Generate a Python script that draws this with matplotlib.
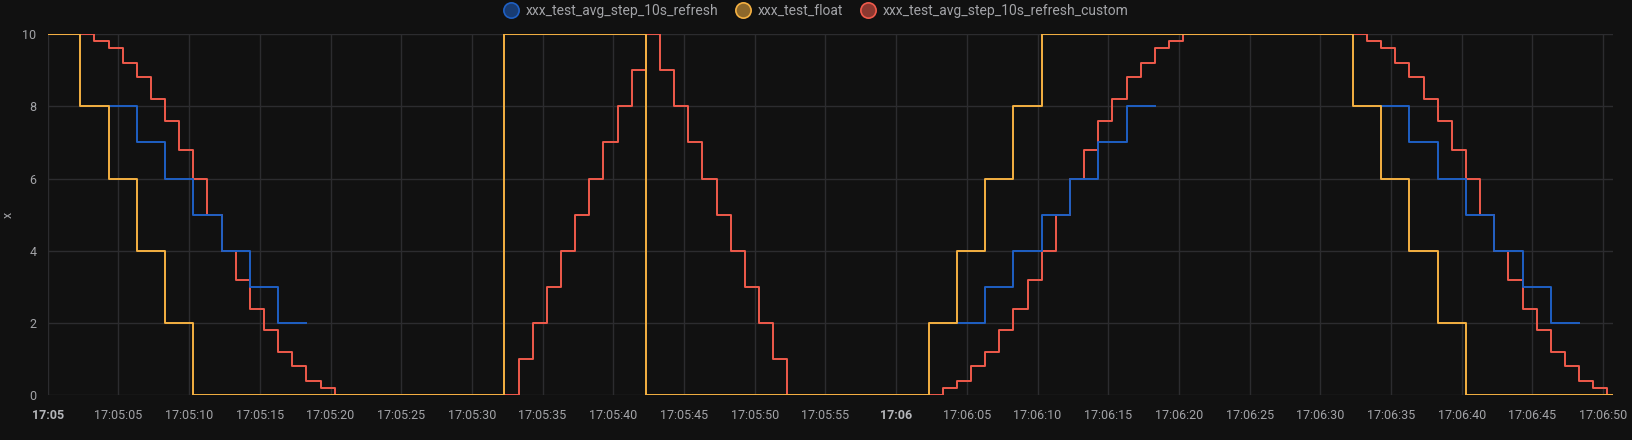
#!/usr/bin/env python
"""Grafana-style step chart of three test series (dark theme)."""

import matplotlib
matplotlib.use("Agg")
import matplotlib.dates as mdates
import matplotlib.pyplot as plt
import numpy as np
import pandas as pd
from matplotlib.lines import Line2D

BASE_TIME = pd.Timestamp("2024-01-01 17:05:00")
X_END_S = 110.7

# change points, seconds after 17:05:00 (steps-post); nan = no data
refresh_t = [4.3, 6.3, 8.3, 10.3, 12.3, 14.3, 16.3, 18.3, 18.3,
             64.3, 66.3, 68.3, 70.3, 72.3, 74.3, 76.3, 78.3, 78.3,
             94.3, 96.3, 98.3, 100.3, 102.3, 104.3, 106.3, 108.3, 108.3]
refresh_v = [8, 7, 6, 5, 4, 3, 2, 2, np.nan,
             2, 3, 4, 5, 6, 7, 8, 8, np.nan,
             8, 7, 6, 5, 4, 3, 2, 2, np.nan]

float_t = [0, 2.3, 4.3, 6.3, 8.3, 10.3, 32.3, 42.3, 62.3, 64.3, 66.3, 68.3,
           70.3, 92.3, 94.3, 96.3, 98.3, 100.3, 110.7]
float_v = [10, 8, 6, 4, 2, 0, 10, 0, 2, 4, 6, 8,
           10, 8, 6, 4, 2, 0, 0]

custom_t = [0, 3.3, 4.3, 5.3, 6.3, 7.3, 8.3, 9.3, 10.3, 11.3, 12.3, 13.3, 14.3,
            15.3, 16.3, 17.3, 18.3, 19.3, 20.3,
            33.3, 34.3, 35.3, 36.3, 37.3, 38.3, 39.3, 40.3, 41.3, 42.3, 43.3,
            44.3, 45.3, 46.3, 47.3, 48.3, 49.3, 50.3, 51.3, 52.3,
            63.3, 64.3, 65.3, 66.3, 67.3, 68.3, 69.3, 70.3, 71.3, 72.3, 73.3,
            74.3, 75.3, 76.3, 77.3, 78.3, 79.3, 80.3,
            93.3, 94.3, 95.3, 96.3, 97.3, 98.3, 99.3, 100.3, 101.3, 102.3,
            103.3, 104.3, 105.3, 106.3, 107.3, 108.3, 109.3, 110.3, 110.7]
custom_v = [10, 9.8, 9.6, 9.2, 8.8, 8.2, 7.6, 6.8, 6, 5, 4, 3.2, 2.4,
            1.8, 1.2, 0.8, 0.4, 0.2, 0,
            1, 2, 3, 4, 5, 6, 7, 8, 9, 10, 9,
            8, 7, 6, 5, 4, 3, 2, 1, 0,
            0.2, 0.4, 0.8, 1.2, 1.8, 2.4, 3.2, 4, 5, 6, 6.8,
            7.6, 8.2, 8.8, 9.2, 9.6, 9.8, 10,
            9.8, 9.6, 9.2, 8.8, 8.2, 7.6, 6.8, 6, 5, 4,
            3.2, 2.4, 1.8, 1.2, 0.8, 0.4, 0.2, 0, 0]

series_names = ["xxx_test_avg_step_10s_refresh", "xxx_test_float",
                "xxx_test_avg_step_10s_refresh_custom"]
series_colors = ["#1f60c4", "#f5b142", "#f05a4b"]

BG = "#111111"
GRID = "#2c2c2f"
TEXT = "#a3a4a8"


def to_time(seconds):
    return BASE_TIME + pd.to_timedelta(np.asarray(seconds, dtype=float), unit="s")


def tick_label(x, pos=None):
    t = mdates.num2date(x)
    return t.strftime("%H:%M") if t.second == 0 else t.strftime("%H:%M:%S")


def main() -> None:
    plt.rcParams["font.family"] = ["Roboto", "DejaVu Sans"]
    fig = plt.figure(figsize=(16.33, 4.40), dpi=100, facecolor=BG)
    ax = fig.add_axes([47.7 / 1633, 1 - 395.3 / 440, (1613 - 47.7) / 1633, (395.3 - 34) / 440])
    ax.set_facecolor(BG)

    data = [(refresh_t, refresh_v), (float_t, float_v), (custom_t, custom_v)]
    zorders = [3, 4, 2]
    for (t, v), color, z in zip(data, series_colors, zorders):
        ax.step(to_time(t), v, where="post", color=color, lw=1.4, zorder=z)

    ax.set_xlim(to_time([0])[0], to_time([X_END_S])[0])
    ax.set_ylim(0, 10)
    ax.set_yticks(range(0, 11, 2))
    ax.xaxis.set_major_locator(mdates.SecondLocator(bysecond=range(0, 60, 5)))
    ax.xaxis.set_major_formatter(plt.FuncFormatter(tick_label))

    ax.grid(True, color=GRID, lw=1.0, zorder=0)
    for side in ax.spines.values():
        side.set_visible(False)
    ax.tick_params(length=0, colors=TEXT, labelsize=9)
    ax.tick_params(axis="x", pad=10)
    ax.tick_params(axis="y", pad=8)
    ax.set_ylabel("x", color=TEXT, fontsize=9, va="center")
    ax.yaxis.set_label_coords(-0.0254, 0.5)

    fig.canvas.draw()
    for lbl in ax.get_xticklabels():
        if len(lbl.get_text()) == 5:
            lbl.set_fontweight("bold")
            lbl.set_color("#b5b6ba")

    handles = [
        Line2D([], [], ls="none", marker="o", markersize=11,
               markerfacecolor=matplotlib.colors.to_rgba(c, 0.55), markeredgecolor=c, markeredgewidth=1.2)
        for c in series_colors
    ]
    fig.legend(handles, series_names, loc="center left", bbox_to_anchor=(504 / 1633, 1 - 11 / 440),
               ncol=3, frameon=False, fontsize=10, labelcolor=TEXT, handlelength=1.0,
               handletextpad=0.55, columnspacing=1.3, borderpad=0, borderaxespad=0)

    fig.savefig("out.png", dpi=100, facecolor=BG)
    plt.close(fig)


if __name__ == "__main__":
    main()
